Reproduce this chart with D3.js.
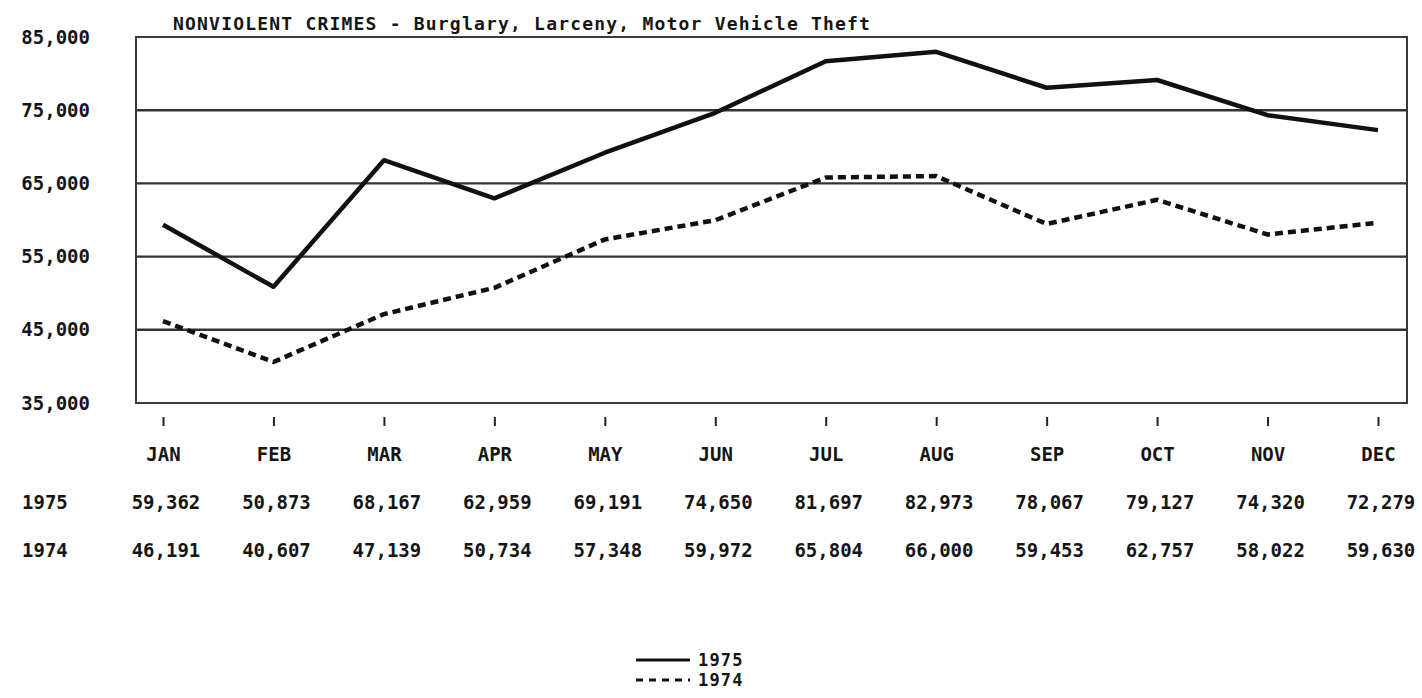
<!DOCTYPE html>
<html>
<head>
<meta charset="utf-8">
<script src="https://cdn.jsdelivr.net/npm/d3@7"></script>
<style>
  body { margin: 0; background: #fff; }
  text { font-family: "DejaVu Sans Mono", "Liberation Mono", monospace; fill: #151515; }
</style>
</head>
<body>
<div id="chart"></div>
<script>
// Chart data
var titleText = "NONVIOLENT CRIMES - Burglary, Larceny, Motor Vehicle Theft";
var months = ["JAN", "FEB", "MAR", "APR", "MAY", "JUN", "JUL", "AUG", "SEP", "OCT", "NOV", "DEC"];
var values1975 = [59362, 50873, 68167, 62959, 69191, 74650, 81697, 82973, 78067, 79127, 74320, 72279];
var values1974 = [46191, 40607, 47139, 50734, 57348, 59972, 65804, 66000, 59453, 62757, 58022, 59630];
var yTickValues = [35000, 45000, 55000, 65000, 75000, 85000];
var gridValues = [45000, 55000, 65000, 75000];
var seriesNames = ["1975", "1974"];

var svgWidth = 1422, svgHeight = 698;

// Plot frame
var frame = {left: 136, right: 1407, top: 37, bottom: 403};

var svg = d3.select("#chart")
    .append("svg")
    .attr("width", svgWidth)
    .attr("height", svgHeight);

// Scales
var xScale = d3.scalePoint().domain(months).range([163, 1378]);
var yScale = d3.scaleLinear().domain([35000, 85000]).range([frame.bottom, frame.top]);

var series = [
    {name: seriesNames[0], values: values1975, dash: null},
    {name: seriesNames[1], values: values1974, dash: "8,5"}
];

// Grid lines
svg.append("g").selectAll("line")
    .data(gridValues)
    .enter().append("line")
    .attr("x1", frame.left)
    .attr("x2", frame.right)
    .attr("y1", d => yScale(d))
    .attr("y2", d => yScale(d))
    .attr("stroke", "#333")
    .attr("stroke-width", 2.4);

// Frame
svg.append("rect")
    .attr("x", frame.left)
    .attr("y", frame.top)
    .attr("width", frame.right - frame.left)
    .attr("height", frame.bottom - frame.top)
    .attr("fill", "none")
    .attr("stroke", "#3a3a3a")
    .attr("stroke-width", 2);

// Title
svg.append("text")
    .attr("x", 173)
    .attr("y", 30)
    .attr("font-size", "18px")
    .attr("font-weight", "bold")
    .attr("letter-spacing", "1.2px")
    .text(titleText);

// Y axis
var yAxis = svg.append("g")
    .attr("transform", "translate(" + frame.left + ",0)")
    .call(d3.axisLeft(yScale).tickValues(yTickValues).tickFormat(d3.format(",")).tickSize(0).tickPadding(46));
yAxis.select(".domain").remove();
yAxis.selectAll("text")
    .attr("font-size", "19px")
    .attr("font-weight", "bold")
    .style("font-family", "\"DejaVu Sans Mono\", monospace")
    .attr("fill", "#151515");

// X axis
var xAxis = svg.append("g")
    .attr("transform", "translate(0,417)")
    .call(d3.axisBottom(xScale).tickSizeInner(9).tickSizeOuter(0).tickPadding(22));
xAxis.select(".domain").remove();
xAxis.selectAll("line").attr("stroke", "#222").attr("stroke-width", 2);
xAxis.selectAll("text")
    .attr("font-size", "19px")
    .attr("font-weight", "bold")
    .style("font-family", "\"DejaVu Sans Mono\", monospace")
    .attr("fill", "#151515");

// Lines
var line = d3.line()
    .x((d, i) => xScale(months[i]))
    .y(d => yScale(d));

svg.append("g").selectAll("path")
    .data(series)
    .enter().append("path")
    .attr("d", d => line(d.values))
    .attr("fill", "none")
    .attr("stroke", "#111")
    .attr("stroke-width", 4.5)
    .attr("stroke-linejoin", "round")
    .attr("stroke-dasharray", d => d.dash);

// Data table under the chart
var rowY = [502, 550];
series.forEach(function(s, r){
    svg.append("text")
        .attr("x", 22)
        .attr("y", rowY[r])
        .attr("dy", "0.35em")
        .attr("font-size", "19px")
        .attr("font-weight", "bold")
        .text(s.name);

    svg.append("g").selectAll("text")
        .data(s.values)
        .enter().append("text")
        .attr("x", (d, i) => xScale(months[i]) + 3)
        .attr("y", rowY[r])
        .attr("dy", "0.35em")
        .attr("text-anchor", "middle")
        .attr("font-size", "19px")
        .attr("font-weight", "bold")
        .text(d => d3.format(",")(d));
});

// Legend
var legend = svg.append("g").attr("transform", "translate(636,660)");
var legendRows = legend.selectAll("g")
    .data(series)
    .enter().append("g")
    .attr("transform", (d, i) => "translate(0," + (i * 20) + ")");
legendRows.append("line")
    .attr("x1", 0)
    .attr("x2", 54)
    .attr("stroke", "#111")
    .attr("stroke-width", 3)
    .attr("stroke-dasharray", d => d.dash ? "7,6" : null);
legendRows.append("text")
    .attr("x", 62)
    .attr("dy", "0.35em")
    .attr("font-size", "17px")
    .attr("font-weight", "bold")
    .attr("letter-spacing", "1.2px")
    .text(d => d.name);
</script>
</body>
</html>
